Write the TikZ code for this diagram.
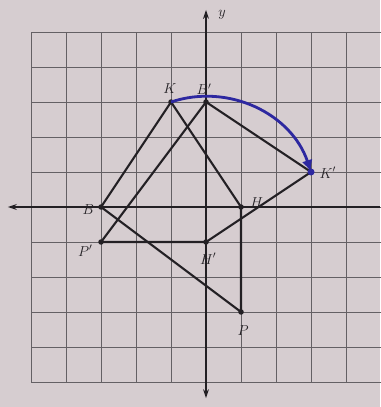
\documentclass[tikz,border=0pt]{standalone}
\usetikzlibrary{arrows.meta,calc}
\definecolor{paper}{RGB}{214,205,208}
\definecolor{gridc}{RGB}{100,96,100}
\definecolor{ink}{RGB}{35,32,36}
\definecolor{arcblue}{RGB}{45,40,160}
\begin{document}
\begin{tikzpicture}[x=35pt,y=35pt,
  gridline/.style={gridc,line width=0.9pt},
  axisline/.style={ink,line width=1.1pt},
  axtip/.style={-{Stealth[length=9pt,width=6pt,open]}},
  figline/.style={ink,line width=2.1pt,line join=round},
  ptlabel/.style={font=\fontsize{14}{16}\selectfont\itshape,text=ink,inner sep=1pt},
  dotmark/.style={circle,fill=ink,inner sep=0pt,minimum size=5.5pt}]
\fill[paper] (-5.886,-5.714) rectangle (4.971,5.914);
\useasboundingbox (-5.886,-5.714) rectangle (4.971,5.914);
\foreach \i in {-5,...,5}{
  \draw[gridline] (\i,-5) -- (\i,5);
  \draw[gridline] (-5,\i) -- (5,\i);
}
% axes
\coordinate (xl) at (-5.66,0);
\coordinate (xr) at (4.971,0);
\coordinate (yt) at (0,5.63);
\coordinate (yb) at (0,-5.46);
\coordinate (O) at (0,0);
\draw[axisline,axtip] (xr) -- (xl);
\draw[axisline,axtip] (O) -- (yt);
\draw[axisline,axtip] (O) -- (yb);
\node[ptlabel] (ylab) at (0.46,5.49) {$y$};
% original vertices
\coordinate (K) at (-1,3);
\coordinate (B) at (-3,0);
\coordinate (H) at (1,0);
\coordinate (P) at (1,-3);
% image vertices
\coordinate (Bp) at (0,3);
\coordinate (Kp) at (3,1);
\coordinate (Hp) at (0,-1);
\coordinate (Pp) at (-3,-1);
\draw[figline] (K) -- (B) -- (P) -- (H) -- cycle;
\draw[figline] (Bp) -- (Kp) -- (Hp) -- (Pp) -- cycle;
\foreach \p in {K,B,H,P,Bp,Hp,Pp}{\node[dotmark] (d\p) at (\p) {};}
% labels
\node[ptlabel] (lK) at ($(K)+(-0.03,0.37)$) {$K$};
\node[ptlabel] (lBp) at ($(Bp)+(-0.06,0.37)$) {$B'$};
\node[ptlabel] (lKp) at ($(Kp)+(0.48,-0.02)$) {$K'$};
\node[ptlabel] (lH) at ($(H)+(0.45,0.12)$) {$H$};
\node[ptlabel] (lB) at ($(B)+(-0.36,-0.08)$) {$B$};
\node[ptlabel] (lPp) at ($(Pp)+(-0.45,-0.25)$) {$P'$};
\node[ptlabel] (lHp) at ($(Hp)+(0.06,-0.48)$) {$H'$};
\node[ptlabel] (lP) at ($(P)+(0.06,-0.52)$) {$P$};
% rotation arc
\draw[arcblue,line width=2.8pt,-{Latex[length=12pt,width=11pt]}] (K) arc[start angle=108.43,end angle=18.43,radius=3.1623];
\node[circle,fill=arcblue,inner sep=0pt,minimum size=7pt] (dKp) at (Kp) {};
\end{tikzpicture}
\end{document}
